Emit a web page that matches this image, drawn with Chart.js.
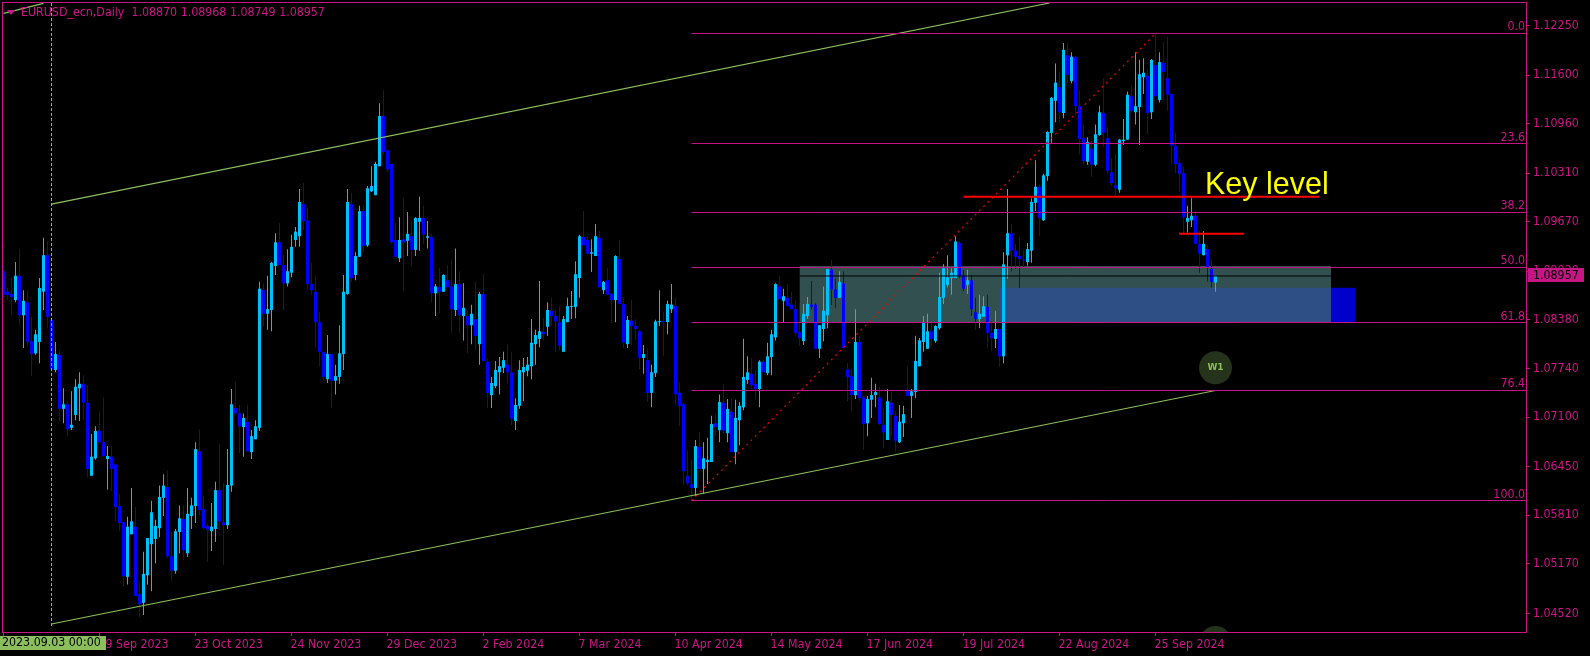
<!DOCTYPE html>
<html><head><meta charset="utf-8">
<style>html,body{margin:0;padding:0;background:#000;overflow:hidden}canvas{display:block}</style>
<script src="https://cdn.jsdelivr.net/npm/chart.js@4"></script>
</head><body><canvas id="c" width="1590" height="656" style="width:1590px;height:656px"></canvas>
<script>
// Prices in units of 0.0001
const open=[
10902,10875,10872,10864,10896,10844,10861,10810,10794,10809,
10875,10923,10838,10772,10792,10721,10727,10696,10713,10748,
10754,10729,10633,10656,10692,10677,10655,10658,10648,10593,
10572,10500,10556,10566,10477,10466,10502,10543,10550,10564,
10604,10618,10527,10508,10559,10576,10531,10580,10593,10665,
10589,10567,10560,10563,10614,10572,10568,10620,10722,10715,
10697,10704,10664,10681,10696,10877,10846,10851,10909,10940,
10910,10886,10900,10943,10948,10990,10969,10885,10875,10835,
10796,10760,10793,10758,10763,10793,10872,10990,10897,10921,
10981,10936,11007,11002,11040,11106,11061,11043,10943,10919,
10944,10942,10948,10930,10967,10972,10946,10947,10873,10881,
10875,10890,10882,10851,10885,10843,10843,10831,10839,10806,
10872,10783,10739,10751,10769,10775,10779,10769,10705,10725,
10769,10771,10777,10806,10813,10822,10829,10850,10843,10835,
10796,10835,10855,10855,10893,10947,10943,10925,10922,10946,
10877,10890,10872,10864,10918,10859,10806,10837,10830,10823,
10788,10785,10742,10768,10835,10836,10835,10852,10856,10742,
10727,10633,10622,10617,10671,10642,10651,10651,10702,10693,
10729,10689,10717,10664,10706,10723,10759,10767,10754,10747,
10783,10768,10789,10815,10882,10863,10867,10858,10852,10822,
10810,10843,10858,10858,10800,10826,10844,10904,10878,10867,
10886,10773,10764,10739,10809,10736,10702,10733,10739,10736,
10700,10680,10729,10712,10677,10702,10746,10738,10743,10777,
10809,10800,10823,10810,10827,10867,10884,10893,10893,10939,
10896,10884,10890,10848,10839,10842,10855,10821,10813,10826,
10790,10923,10952,10929,10922,10917,10914,10929,10992,11013,
10969,11027,11084,11126,11144,11110,11186,11152,11184,11119,
11077,11046,11063,11042,11081,11110,11077,11032,11015,11009,
11073,11075,11132,11111,11118,11157,11159,11111,11173,11127,
11176,11156,11135,11067,11044,11031,10967,10969,10975,10938,
10923,10931,10905,10887];
const high=[
10935,10880,10894,10914,10931,10877,10877,10842,10825,10893,
10946,10941,10838,10809,10798,10748,10731,10744,10760,10769,
10765,10752,10688,10698,10718,10736,10672,10672,10648,10609,
10572,10579,10617,10592,10493,10533,10551,10600,10575,10620,
10635,10640,10559,10563,10594,10594,10617,10604,10677,10694,
10606,10570,10597,10625,10675,10623,10668,10747,10756,10726,
10715,10726,10693,10706,10888,10886,10896,10914,10952,10965,
10923,10931,10950,10960,11010,11018,10985,10913,10896,10848,
10796,10818,10793,10779,10831,10897,11010,11005,10927,10988,
10988,11014,11040,11046,11123,11140,11061,11043,10965,10973,
10998,10980,10967,10973,11000,10988,10968,10951,10885,10907,
10898,10910,10917,10932,10902,10886,10851,10858,10888,10875,
10898,10787,10763,10784,10789,10796,10806,10796,10735,10785,
10788,10789,10839,10825,10889,10840,10861,10867,10850,10856,
10843,10867,10876,10915,10950,10981,10948,10944,10964,10955,
10889,10906,10873,10923,10943,10868,10843,10864,10839,10825,
10805,10800,10779,10838,10877,10848,10863,10885,10867,10756,
10730,10666,10654,10680,10691,10677,10683,10712,10714,10740,
10754,10734,10735,10733,10730,10813,10790,10788,10772,10785,
10785,10808,10825,10886,10896,10879,10885,10875,10864,10861,
10859,10868,10889,10860,10831,10882,10905,10917,10892,10902,
10902,10781,10773,10852,10817,10738,10738,10762,10754,10750,
10721,10747,10744,10718,10726,10725,10777,10747,10817,10814,
10843,10846,10834,10831,10900,10911,10923,10906,10948,10942,
10904,10904,10897,10867,10871,10869,10871,10836,10850,10826,
10927,11010,10964,10938,10946,10930,10939,10998,11048,11017,
11030,11086,11131,11175,11165,11202,11202,11190,11185,11140,
11095,11078,11075,11095,11120,11156,11092,11051,11056,11076,
11102,11138,11147,11190,11180,11182,11168,11181,11214,11190,
11203,11210,11135,11084,11050,11040,10988,10998,10981,10955,
10955,10936,10917,10896.8];
const low=[
10868,10864,10844,10861,10831,10801,10804,10764,10792,10781,
10851,10827,10771,10769,10705,10702,10685,10693,10706,10705,
10706,10631,10633,10654,10676,10658,10615,10613,10573,10560,
10487,10490,10556,10475,10447,10450,10490,10481,10518,10552,
10580,10525,10495,10504,10531,10522,10526,10563,10571,10581,
10563,10520,10534,10546,10562,10516,10563,10612,10715,10663,
10658,10665,10655,10681,10692,10830,10825,10823,10897,10910,
10851,10882,10894,10934,10934,10956,10878,10871,10802,10777,
10758,10755,10722,10740,10754,10772,10871,10888,10890,10921,
10927,10934,11006,11002,11040,11055,11032,10938,10921,10914,
10876,10922,10909,10922,10929,10938,10932,10861,10843,10846,
10875,10881,10821,10843,10821,10811,10794,10806,10798,10779,
10784,10722,10722,10748,10740,10768,10755,10700,10693,10721,
10731,10764,10760,10779,10802,10811,10817,10831,10796,10798,
10796,10835,10839,10840,10867,10936,10925,10901,10922,10880,
10872,10871,10834,10835,10859,10801,10801,10805,10811,10773,
10767,10730,10723,10763,10830,10790,10819,10847,10727,10698,
10621,10620,10602,10606,10642,10609,10622,10651,10685,10677,
10688,10677,10664,10648,10673,10719,10754,10747,10734,10723,
10769,10765,10765,10811,10865,10835,10856,10852,10817,10804,
10805,10839,10852,10800,10788,10810,10827,10858,10854,10867,
10801,10731,10718,10734,10731,10667,10685,10709,10723,10700,
10669,10680,10685,10664,10676,10684,10738,10709,10735,10777,
10796,10800,10805,10808,10825,10859,10881,10871,10893,10893,
10876,10872,10843,10825,10827,10842,10802,10797,10801,10776,
10781,10892,10902,10905,10880,10907,10909,10913,10981,10948,
10968,11021,11071,11098,11098,11103,11149,11149,11106,11055,
11042,11042,11026,11040,11080,11065,11030,11014,11002,11005,
11068,11075,11111,11095,11068,11135,11082,11102,11132,11124,
11127,11113,11044,11031,11007,10952,10953,10960,10938,10900,
10923,10888,10881,10874.9];
const close=[
10871,10871,10868,10896,10844,10863,10809,10793,10819,10880,
10923,10842,10773,10793,10721,10727,10694,10700,10750,10754,
10729,10642,10658,10692,10677,10659,10659,10642,10592,10571,
10501,10566,10573,10475,10464,10504,10551,10585,10567,10605,
10620,10527,10508,10560,10577,10535,10583,10594,10668,10588,
10564,10562,10566,10614,10573,10568,10621,10727,10715,10698,
10709,10665,10685,10698,10879,10846,10852,10913,10940,10910,
10886,10902,10934,10954,10993,10968,10885,10877,10835,10796,
10763,10793,10758,10764,10794,10875,10993,10893,10922,10981,
10935,11011,11014,11043,11106,11059,11036,10940,10921,10943,
10940,10951,10930,10972,10972,10950,10948,10873,10882,10875,
10897,10881,10852,10885,10844,10854,10831,10846,10817,10872,
10784,10742,10755,10772,10777,10785,10769,10708,10726,10772,
10776,10779,10808,10818,10823,10819,10851,10843,10836,10804,
10839,10856,10856,10898,10948,10936,10925,10927,10948,10881,
10888,10871,10864,10922,10859,10808,10838,10830,10826,10788,
10793,10742,10769,10836,10836,10835,10859,10858,10740,10725,
10639,10623,10617,10672,10642,10656,10654,10701,10697,10730,
10692,10721,10664,10709,10725,10763,10769,10752,10747,10783,
10769,10790,10819,10885,10865,10869,10856,10852,10821,10814,
10846,10859,10855,10800,10831,10850,10905,10878,10867,10888,
10801,10763,10739,10809,10735,10701,10734,10739,10743,10701,
10690,10731,10713,10679,10704,10714,10738,10744,10784,10811,
10835,10823,10813,10830,10868,10906,10894,10900,10941,10896,
10879,10890,10852,10839,10846,10856,10821,10814,10826,10790,
10911,10952,10929,10921,10918,10916,10931,10993,11013,10972,
11028,11085,11130,11150,11111,11193,11160,11184,11119,11076,
11047,11072,11042,11082,11111,11084,11034,11018,11011,11075,
11075,11134,11113,11119,11161,11163,11110,11180,11132,11177,
11164,11134,11067,11043,11030,10973,10972,10975,10938,10925,
10938,10907,10888,10895.7];

const yTicks=[1.04520,1.05170,1.05810,1.06450,1.07100,1.07740,1.08380,1.09020,1.09670,1.10310,1.10960,1.11600,1.12250];
const yRange=[1.04275,1.12547];
const xRange=[-0.125,380.625];
const xTickIdx=[0,24,48,72,96,120,144,168,192,216,240,264,288];
const xTickLabels=["","19 Sep 2023","23 Oct 2023","24 Nov 2023","29 Dec 2023","2 Feb 2024","7 Mar 2024","10 Apr 2024","14 May 2024","17 Jun 2024","19 Jul 2024","22 Aug 2024","25 Sep 2024"];

const fibNames=["0.0","23.6","38.2","50.0","61.8","76.4","100.0"];
const fibPrices=[1.12146,1.10699,1.09792,1.09069,1.08345,1.07451,1.06004];
const fibStart=172;
const fibDiagonal=[[172,1.06004],[288,1.12146]];
const channelUpper=[[12,1.09903],[261.5,1.12547]];
const channelLower=[[12,1.04380],[303,1.07451]];
const channelStub=[[0,1.12411],[10,1.12543]];
const vLine=[[12,1.12547],[12,1.04340]];
const keyLine1=[[240,1.09999],[328.9,1.09999]];
const keyLine2=[[293.9,1.09513],[310.1,1.09513]];
const bidLine=[[199,1.08957],[331.9,1.08957]];
const zoneGreen=[199,331.9,1.09088,1.08345];
const zoneSteel=[249,331.9,1.08802,1.08345];
const zoneBlue=[331.9,337.9,1.08802,1.08345];
const circles=[[303,1.07750],[303,1.04136]];
const legendText="EURUSD_ecn,Daily  1.08870 1.08968 1.08749 1.08957";
const bidText="1.08957";
const cursorText="2023.09.03 00:00";
const keyText="Key level";

const MAG="#C71585",TXT="#D0148A",GRN="#8ABF5C",UP="#00BFFF",DN="#0000FF";
const FAM='"DejaVu Sans Condensed","DejaVu Sans"';
const FS=12.3;
const FONT=FS+'px '+FAM;
const pr=v=>v/10000;
const bull=open.map((o,i)=>close[i]>=o);
const colors=bull.map(b=>b?UP:DN);
const pts=a=>a.map(p=>({x:p[0],y:p[1]}));
const seg=(a,color,width,dash,order)=>({type:'line',data:pts(a),borderColor:color,borderWidth:width,borderDash:dash||[],pointRadius:0,tension:0,fill:false,order:order||1,borderCapStyle:'butt'});
const zone=(z,color,order)=>({type:'line',data:[{x:z[0],y:z[2]},{x:z[1],y:z[2]}],borderWidth:0,borderColor:'transparent',pointRadius:0,backgroundColor:color,fill:{value:z[3]},order});

const datasets=[
  zone(zoneGreen,"#32504F",22),zone(zoneSteel,"#2E4F85",21),zone(zoneBlue,"#0000CD",20),
  {type:'bar',grouped:false,order:6,barThickness:1,inflateAmount:0,backgroundColor:colors,minBarLength:1,data:open.map((_,i)=>({x:i,y:[pr(low[i]),pr(high[i])]}))},
  {type:'bar',grouped:false,order:5,barThickness:3,inflateAmount:0,backgroundColor:colors,minBarLength:1,data:open.map((o,i)=>({x:i,y:[pr(o),pr(close[i])]}))},
  ...fibPrices.map(p=>seg([[fibStart,p],[xRange[1],p]],MAG,1)),
  seg(bidLine,"#000000",1,null,3),
  seg(channelUpper,GRN,1.2),seg(channelLower,GRN,1.2),seg(channelStub,GRN,1.2),
  seg(vLine,GRN,1,[3,2]),
  seg(fibDiagonal,"#FF0000",1.1,[2,4]),
  seg(keyLine1,"#FF0000",2),seg(keyLine2,"#FF0000",2),
  {type:'line',showLine:false,data:pts(circles),pointRadius:16.5,pointBackgroundColor:"#25331A",pointBorderWidth:0,clip:0,order:2}
];

const overlay={id:'overlay',afterDraw(ch){
  const c=ch.ctx,xs=ch.scales.x,ys=ch.scales.y;
  c.save();
  c.strokeStyle=MAG;c.lineWidth=1;
  c.strokeRect(2.5,2.5,1524,630);
  c.font=FONT;c.fillStyle=TXT;c.textAlign='right';c.textBaseline='alphabetic';
  fibPrices.forEach((p,i)=>c.fillText(fibNames[i],1525,ys.getPixelForValue(p)-3));
  c.beginPath();c.moveTo(7,10);c.lineTo(15,10);c.lineTo(11,15);c.closePath();c.fill();
  c.textAlign='left';c.textBaseline='middle';
  c.fillText(legendText,21,13);
  c.font='30.5px "Liberation Sans"';c.fillStyle="#FFFF00";c.textBaseline='alphabetic';
  c.fillText(keyText,1205,193.5);
  c.font='bold 9px "DejaVu Sans"';c.fillStyle=GRN;c.textAlign='center';c.textBaseline='middle';
  c.fillText("W1",xs.getPixelForValue(circles[0][0]),ys.getPixelForValue(circles[0][1]));
  c.fillStyle=MAG;c.fillRect(1528,268,56,14);
  c.fillStyle="#000";c.font=FONT;c.textAlign='left';c.fillText(bidText,1533,275.5);
  c.fillStyle=GRN;c.fillRect(0,636,106,14);
  c.fillStyle="#000";c.fillText(cursorText,2,643);
  c.restore();
}};

function noPad(s){s.paddingTop=0;s.paddingBottom=0;s.paddingLeft=0;s.paddingRight=0;}

new Chart(document.getElementById('c'),{
  type:'bar',
  data:{datasets},
  options:{
    responsive:false,animation:false,events:[],
    layout:{autoPadding:false,padding:{left:3,top:3,right:0,bottom:0}},
    plugins:{legend:{display:false},tooltip:{enabled:false},title:{display:false}},
    scales:{
      x:{type:'linear',offset:false,min:xRange[0],max:xRange[1],
        grid:{offset:false,drawOnChartArea:false,drawTicks:true,tickLength:4,tickColor:MAG},border:{display:false},
        afterFit(s){s.height=24;noPad(s);},
        afterBuildTicks(s){s.ticks=xTickIdx.map(v=>({value:v}));},
        afterTickToLabelConversion(s){s.ticks.forEach((t,i)=>t.label=xTickLabels[i]);},
        ticks:{color:TXT,font:{family:FAM,size:FS},autoSkip:false,maxRotation:0,minRotation:0,align:'start',padding:1,labelOffset:-1}
      },
      y:{type:'linear',position:'right',min:yRange[0],max:yRange[1],
        grid:{drawOnChartArea:false,drawTicks:true,tickLength:4,tickColor:MAG},border:{display:false},
        afterFit(s){s.width=64;noPad(s);},
        afterBuildTicks(s){s.ticks=yTicks.map(v=>({value:v}));},
        ticks:{color:TXT,font:{family:FAM,size:FS},padding:3,autoSkip:false,callback:v=>v.toFixed(5)}
      }
    }
  },
  plugins:[overlay]
});
</script></body></html>
